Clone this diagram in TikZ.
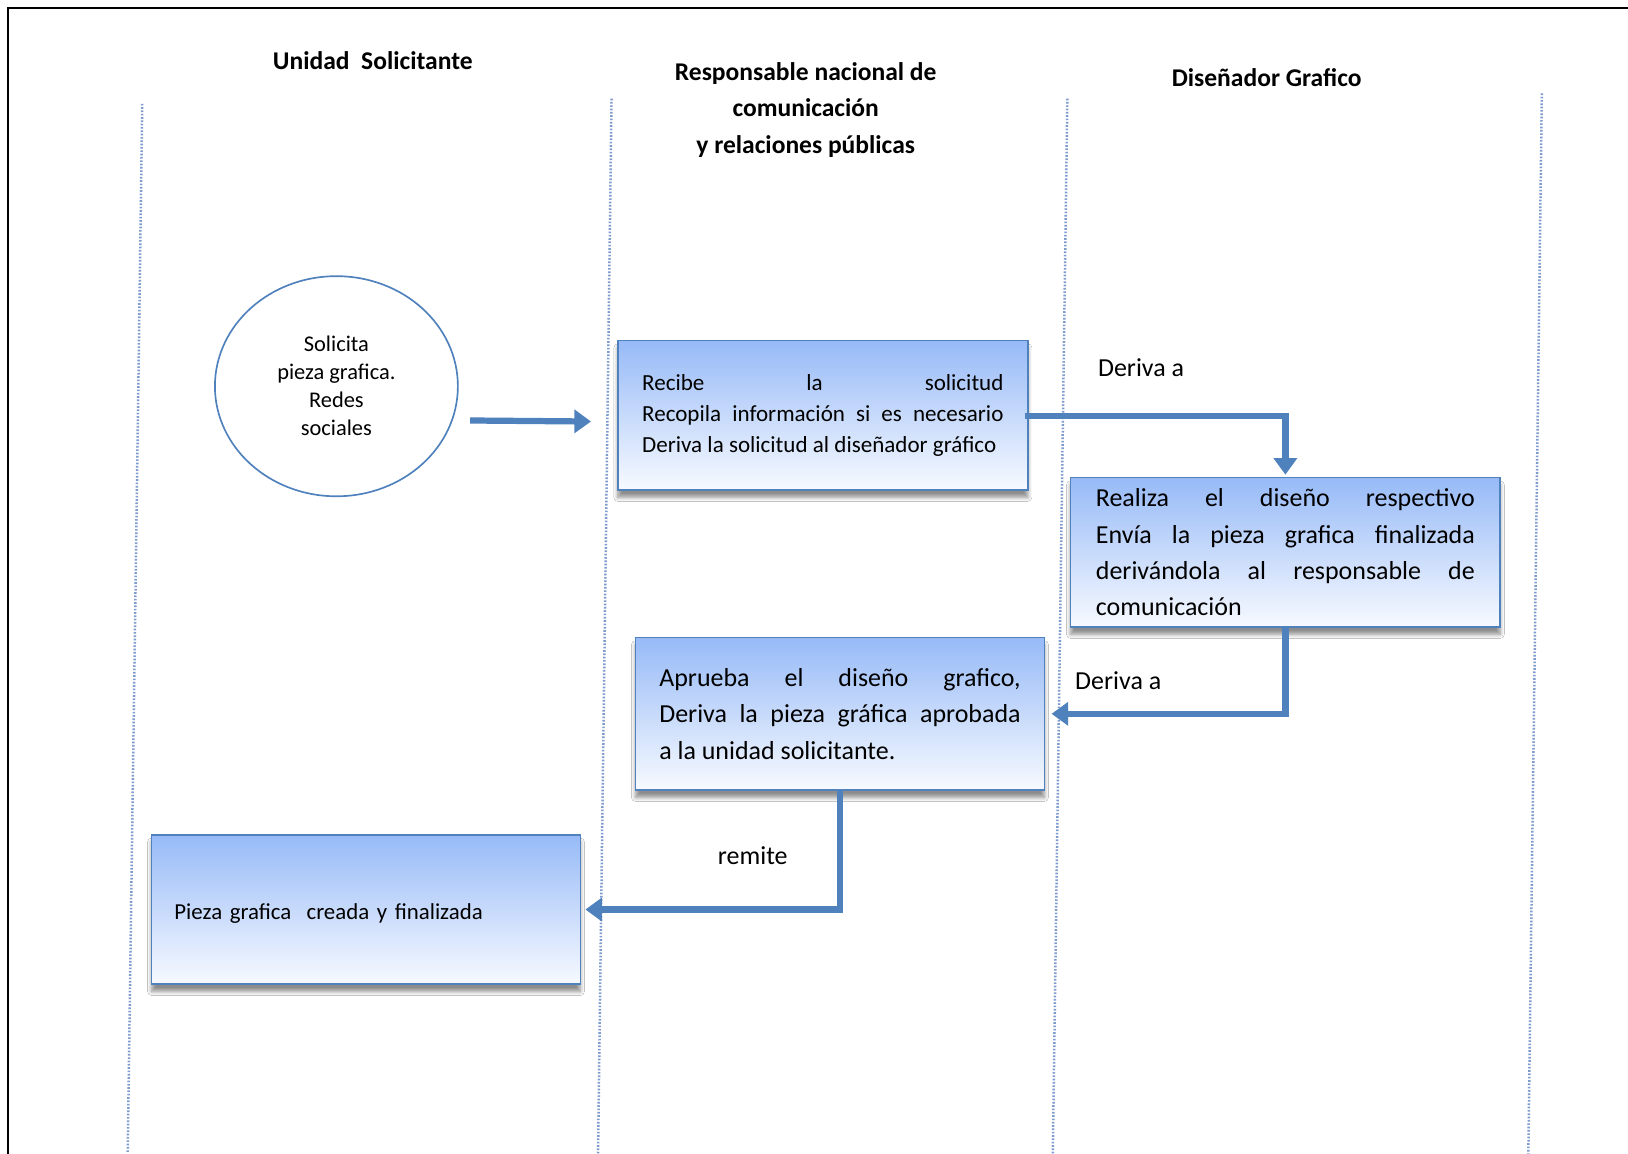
\documentclass[tikz,border=0pt]{standalone}
\usepackage{fontspec}
\setmainfont{Carlito}
\usetikzlibrary{shapes.geometric,arrows.meta,shadows.blur,calc}
\definecolor{flowblue}{RGB}{79,129,189}
\definecolor{laneblue}{RGB}{125,155,205}
\definecolor{boxtop}{RGB}{151,186,247}
\definecolor{boxbottom}{RGB}{247,250,255}

\begin{document}
\begin{tikzpicture}[x=0.5pt,y=-0.5pt,
  lane/.style={laneblue, line width=1.2pt, dash pattern=on 0.8pt off 0.8pt},
  header/.style={font=\fontsize{12.3}{17.5}\selectfont\bfseries, align=center, inner sep=0pt},
  taskbox/.style={draw=flowblue, line width=0.8pt, top color=boxtop, bottom color=boxbottom,
    inner sep=0pt, align=justify,
    blur shadow={shadow xshift=0pt, shadow yshift=-3.5pt, shadow opacity=45, shadow blur steps=8}},
  flow/.style={flowblue, line width=3pt, -{Triangle[width=11pt,length=8pt]}},
  note/.style={font=\fontsize{12.5}{15}\selectfont, inner sep=0pt},
]
\useasboundingbox (0,0) rectangle (1568,1111);
\fill[white] (0,0) rectangle (1568,1111);

% outer frame (top and left edges)
\draw[line width=1.1pt, black] (8,1111) -- (8,8) -- (1568,8);

% swimlane separators
\draw[lane] (137,100) -- (123,1111);
\draw[lane] (589,95) -- (576,1111);
\draw[lane] (1028,95) -- (1014,1111);
\draw[lane] (1485,90) -- (1472,1111);

% lane headers
\node[header] (h1) at (359,58) {Unidad\ \ Solicitante};
\node[header] (h2) at (776,106) {Responsable nacional de\\comunicación\\y relaciones públicas};
\node[header] (h3) at (1220,75) {Diseñador Grafico};

% start event
\node[ellipse, draw=flowblue, line width=0.8pt, minimum width=117pt, minimum height=106pt,
  inner sep=0pt, align=center, font=\fontsize{10.8}{13.5}\selectfont] (start) at (324,372)
  {Solicita\\pieza grafica.\\Redes\\sociales};

% activities
\node[taskbox, minimum width=197.5pt, minimum height=72pt, text width=174pt,
  font=\fontsize{11.1}{15}\selectfont] (recibe) at (792.5,400)
  {Recibe la solicitud\linebreak Recopila información si es necesario\linebreak Deriva la solicitud al diseñador gráfico};

\node[taskbox, minimum width=207pt, minimum height=72pt, text width=182.5pt,
  font=\fontsize{12.5}{17.5}\selectfont] (realiza) at (1238,532)
  {Realiza el diseño respectivo\linebreak Envía la pieza grafica finalizada\linebreak derivándola al responsable de\linebreak comunicación};

\node[taskbox, minimum width=197pt, minimum height=73.5pt, text width=174pt,
  font=\fontsize{12.5}{17.5}\selectfont] (aprueba) at (809,687.5)
  {Aprueba el diseño grafico,\linebreak Deriva la pieza gráfica aprobada\linebreak a la unidad solicitante.};

\node[taskbox, minimum width=206.5pt, minimum height=72pt, text width=184.5pt, align=left,
  text height=12.5pt, text depth=3pt,
  font=\fontsize{11pt}{15}\selectfont] (pieza) at (352.5,876)
  {Pieza grafica\ \ creada y finalizada};

% connector labels
\node[note] (l1) at (1099,354) {Deriva a};
\node[note] (l2) at (1077,656) {Deriva a};
\node[note] (l3) at (725,824) {remite};

% flow connectors
\draw[flow] ([xshift=5.5pt,yshift=-16.5pt]start.east) -- ([xshift=-12.5pt,yshift=-3pt]recibe.west);
\draw[flow] ([xshift=-2pt,yshift=-0.5pt]recibe.east) -| ([yshift=1pt]realiza.north);
\draw[flow] (realiza.south) |- ([xshift=3pt]aprueba.east);
\draw[flow] (aprueba.south) |- ([xshift=2pt]pieza.east);
\end{tikzpicture}
\end{document}
